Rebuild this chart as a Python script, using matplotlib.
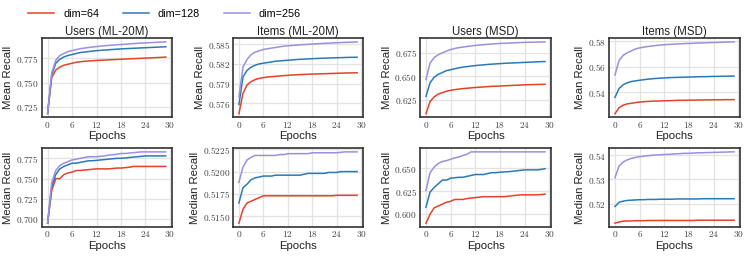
import matplotlib
matplotlib.use("Agg")
import matplotlib.pyplot as plt
from matplotlib.ticker import FixedLocator, FixedFormatter
import numpy as np

plt.rcParams['font.family'] = ['Liberation Sans', 'DejaVu Sans']
plt.rcParams['mathtext.fontset'] = 'cm'

epochs = list(range(30))
dims = ["dim=64", "dim=128", "dim=256"]
colors = ["#e5412b", "#2a7ab8", "#9b8fe0"]

titles = ["Users (ML-20M)", "Items (ML-20M)", "Users (MSD)", "Items (MSD)"]

# mean recall, top row
users_ml_mean_64 = [0.719, 0.755, 0.763, 0.766, 0.768, 0.769, 0.770, 0.771, 0.7715, 0.772, 0.7723, 0.7726, 0.7729, 0.7731, 0.7733,
                    0.7735, 0.7737, 0.7739, 0.7741, 0.7743, 0.7745, 0.7747, 0.7749, 0.7751, 0.7753, 0.7755, 0.7757, 0.7759, 0.7761, 0.7764]
users_ml_mean_128 = [0.718, 0.758, 0.770, 0.774, 0.7765, 0.778, 0.779, 0.780, 0.781, 0.7815, 0.782, 0.7825, 0.783, 0.7833, 0.7836,
                     0.7839, 0.7842, 0.7845, 0.7848, 0.785, 0.7852, 0.7854, 0.7856, 0.7858, 0.786, 0.7862, 0.7864, 0.7866, 0.7868, 0.787]
users_ml_mean_256 = [0.718, 0.760, 0.773, 0.778, 0.780, 0.782, 0.783, 0.784, 0.785, 0.7856, 0.7862, 0.7867, 0.7872, 0.7876, 0.788,
                     0.7884, 0.7887, 0.789, 0.7893, 0.7896, 0.7899, 0.7902, 0.7905, 0.7908, 0.791, 0.7912, 0.7914, 0.7916, 0.7918, 0.792]

items_ml_mean_64 = [0.5744, 0.5775, 0.5788, 0.5793, 0.5796, 0.5798, 0.5799, 0.5800, 0.58005, 0.5801, 0.58015, 0.5802, 0.58025, 0.5803, 0.58033,
                    0.58036, 0.58039, 0.58042, 0.58044, 0.58046, 0.58048, 0.5805, 0.58052, 0.58054, 0.58056, 0.58058, 0.5806, 0.58062, 0.58063, 0.58064]
items_ml_mean_128 = [0.5758, 0.5800, 0.5810, 0.5815, 0.5818, 0.5820, 0.5821, 0.5822, 0.5823, 0.5824, 0.58245, 0.5825, 0.58255, 0.5826, 0.58265,
                     0.5827, 0.58273, 0.58276, 0.58279, 0.58282, 0.58285, 0.58287, 0.58289, 0.58291, 0.58293, 0.58295, 0.58297, 0.58299, 0.583, 0.58301]
items_ml_mean_256 = [0.5770, 0.5815, 0.5827, 0.5834, 0.5838, 0.5840, 0.5842, 0.5843, 0.5844, 0.5845, 0.5846, 0.5847, 0.58475, 0.5848, 0.58485,
                     0.5849, 0.58494, 0.58498, 0.58502, 0.58506, 0.5851, 0.58513, 0.58516, 0.58519, 0.58522, 0.58525, 0.58528, 0.5853, 0.58532, 0.58535]

users_msd_mean_64 = [0.610, 0.623, 0.628, 0.631, 0.6325, 0.634, 0.635, 0.6357, 0.6363, 0.6368, 0.6372, 0.6376, 0.638, 0.6383, 0.6386,
                     0.6389, 0.6392, 0.6394, 0.6396, 0.6398, 0.640, 0.6402, 0.6404, 0.6406, 0.6408, 0.641, 0.6411, 0.6412, 0.6413, 0.6414]
users_msd_mean_128 = [0.6285, 0.643, 0.649, 0.652, 0.654, 0.656, 0.657, 0.658, 0.659, 0.6597, 0.6603, 0.6609, 0.6614, 0.6618, 0.6622,
                      0.6626, 0.6629, 0.6632, 0.6635, 0.6638, 0.664, 0.6642, 0.6644, 0.6646, 0.6648, 0.665, 0.6652, 0.6654, 0.6656, 0.6657]
users_msd_mean_256 = [0.6465, 0.664, 0.670, 0.673, 0.675, 0.677, 0.6785, 0.6797, 0.6805, 0.6812, 0.6818, 0.6824, 0.6829, 0.6833, 0.6837,
                      0.6841, 0.6844, 0.6847, 0.685, 0.6852, 0.6854, 0.6856, 0.6858, 0.686, 0.6862, 0.6863, 0.6864, 0.6865, 0.6866, 0.6867]

items_msd_mean_64 = [0.5233, 0.528, 0.530, 0.531, 0.5315, 0.532, 0.5324, 0.5327, 0.5329, 0.5331, 0.5332, 0.5333, 0.5334, 0.5335, 0.5336,
                     0.5337, 0.5338, 0.5338, 0.5339, 0.5339, 0.534, 0.534, 0.5341, 0.5341, 0.5342, 0.5342, 0.5342, 0.5343, 0.5343, 0.5343]
items_msd_mean_128 = [0.5361, 0.543, 0.546, 0.5475, 0.5485, 0.549, 0.5495, 0.5499, 0.5503, 0.5506, 0.5509, 0.5511, 0.5513, 0.5515, 0.5516,
                      0.5517, 0.5518, 0.5519, 0.552, 0.5521, 0.5522, 0.5523, 0.5523, 0.5524, 0.5525, 0.5525, 0.5526, 0.5526, 0.5527, 0.5527]
items_msd_mean_256 = [0.5536, 0.565, 0.569, 0.571, 0.5725, 0.574, 0.5748, 0.5754, 0.5759, 0.5763, 0.5767, 0.577, 0.5773, 0.5775, 0.5777,
                      0.5779, 0.578, 0.5782, 0.5783, 0.5784, 0.5786, 0.5787, 0.5788, 0.5789, 0.579, 0.5791, 0.5792, 0.5793, 0.5794, 0.5795]

# median recall, bottom row
users_ml_median_64 = [0.695, 0.735, 0.750, 0.750, 0.755, 0.757, 0.758, 0.760, 0.760, 0.7605, 0.761, 0.7615, 0.762, 0.762, 0.762,
                      0.762, 0.7625, 0.763, 0.763, 0.7635, 0.764, 0.765, 0.765, 0.765, 0.765, 0.765, 0.765, 0.765, 0.765, 0.765]
users_ml_median_128 = [0.695, 0.740, 0.755, 0.762, 0.765, 0.767, 0.769, 0.769, 0.770, 0.771, 0.772, 0.772, 0.7725, 0.773, 0.7735,
                       0.774, 0.7745, 0.775, 0.775, 0.7755, 0.776, 0.7765, 0.777, 0.7775, 0.778, 0.778, 0.778, 0.778, 0.778, 0.778]
users_ml_median_256 = [0.695, 0.745, 0.760, 0.766, 0.769, 0.771, 0.773, 0.774, 0.775, 0.776, 0.777, 0.777, 0.777, 0.7775, 0.778,
                       0.779, 0.7795, 0.780, 0.781, 0.781, 0.7815, 0.782, 0.7825, 0.783, 0.783, 0.783, 0.783, 0.783, 0.783, 0.783]

items_ml_median_64 = [0.51425, 0.5158, 0.5165, 0.5167, 0.5169, 0.5171, 0.5173, 0.5173, 0.5173, 0.5173, 0.5173, 0.5173, 0.5173, 0.5173, 0.5173,
                      0.5173, 0.5173, 0.5173, 0.5173, 0.5173, 0.5173, 0.5173, 0.5173, 0.5173, 0.51735, 0.51735, 0.51735, 0.51735, 0.51735, 0.51735]
items_ml_median_128 = [0.5165, 0.5182, 0.5186, 0.5191, 0.5193, 0.5194, 0.5195, 0.5195, 0.5195, 0.5196, 0.5196, 0.5196, 0.5196, 0.5196, 0.5196,
                       0.5196, 0.5197, 0.5198, 0.5198, 0.5198, 0.5198, 0.5198, 0.5199, 0.5199, 0.5199, 0.5200, 0.5200, 0.5200, 0.5200, 0.5200]
items_ml_median_256 = [0.5188, 0.5205, 0.5213, 0.5216, 0.5218, 0.5218, 0.5218, 0.5218, 0.5218, 0.5218, 0.5219, 0.5219, 0.5220, 0.5220, 0.5220,
                       0.5220, 0.5220, 0.5220, 0.5221, 0.5221, 0.5221, 0.5221, 0.5221, 0.5221, 0.5221, 0.52215, 0.5222, 0.5222, 0.5222, 0.5222]

users_msd_median_64 = [0.5904, 0.600, 0.607, 0.609, 0.611, 0.613, 0.614, 0.616, 0.616, 0.616, 0.617, 0.6175, 0.618, 0.6185, 0.619,
                       0.619, 0.619, 0.619, 0.619, 0.619, 0.6195, 0.620, 0.6205, 0.621, 0.621, 0.621, 0.621, 0.621, 0.6213, 0.6218]
users_msd_median_128 = [0.6078, 0.624, 0.629, 0.633, 0.637, 0.637, 0.639, 0.6395, 0.640, 0.640, 0.641, 0.642, 0.643, 0.643, 0.643,
                        0.644, 0.645, 0.645, 0.6455, 0.6458, 0.646, 0.6465, 0.647, 0.6475, 0.648, 0.648, 0.648, 0.648, 0.6485, 0.6493]
users_msd_median_256 = [0.6257, 0.645, 0.651, 0.655, 0.657, 0.658, 0.6595, 0.661, 0.662, 0.6635, 0.665, 0.6675, 0.6675, 0.6675, 0.6675,
                        0.6675, 0.6675, 0.6675, 0.6675, 0.6675, 0.6675, 0.6675, 0.6675, 0.6675, 0.6675, 0.6675, 0.6675, 0.6675, 0.6675, 0.6675]

items_msd_median_64 = [0.5119, 0.5124, 0.5127, 0.5128, 0.5128, 0.5129, 0.5129, 0.5129, 0.513, 0.513, 0.513, 0.513, 0.513, 0.513, 0.513,
                       0.513, 0.513, 0.513, 0.513, 0.513, 0.5131, 0.5131, 0.5131, 0.5131, 0.5131, 0.5131, 0.5131, 0.5131, 0.5131, 0.5131]
items_msd_median_128 = [0.5188, 0.5205, 0.5210, 0.5213, 0.5214, 0.5215, 0.5216, 0.5216, 0.5217, 0.5217, 0.5217, 0.5218, 0.5218, 0.5218, 0.5218,
                        0.5219, 0.5219, 0.5219, 0.5219, 0.5219, 0.5219, 0.522, 0.522, 0.522, 0.522, 0.522, 0.522, 0.522, 0.522, 0.522]
items_msd_median_256 = [0.5307, 0.5355, 0.5372, 0.5381, 0.5387, 0.5391, 0.5394, 0.5396, 0.5398, 0.54, 0.5401, 0.5402, 0.5403, 0.5404, 0.5405,
                        0.5406, 0.5407, 0.5408, 0.5408, 0.5409, 0.541, 0.541, 0.5411, 0.5411, 0.5412, 0.5412, 0.5413, 0.5413, 0.5414, 0.5414]

mean_series = [
    [users_ml_mean_64, users_ml_mean_128, users_ml_mean_256],
    [items_ml_mean_64, items_ml_mean_128, items_ml_mean_256],
    [users_msd_mean_64, users_msd_mean_128, users_msd_mean_256],
    [items_msd_mean_64, items_msd_mean_128, items_msd_mean_256],
]
median_series = [
    [users_ml_median_64, users_ml_median_128, users_ml_median_256],
    [items_ml_median_64, items_ml_median_128, items_ml_median_256],
    [users_msd_median_64, users_msd_median_128, users_msd_median_256],
    [items_msd_median_64, items_msd_median_128, items_msd_median_256],
]

mean_ticks = [["0.725", "0.750", "0.775"],
              ["0.576", "0.579", "0.582", "0.585"],
              ["0.625", "0.650", "0.675"],
              ["0.54", "0.56", "0.58"]]
median_ticks = [["0.700", "0.725", "0.750", "0.775"],
                ["0.5150", "0.5175", "0.5200", "0.5225"],
                ["0.600", "0.625", "0.650"],
                ["0.52", "0.53", "0.54"]]
x_ticks = [0, 6, 12, 18, 24, 30]

W, H = 748, 257
fig = plt.figure(figsize=(W / 100, H / 100), dpi=100)

lefts = [41.7, 233, 420, 609]
widths = [130, 130, 131, 131]
rows = [(38.3, 117.3), (148.3, 226.7)]


def style_axis(ax, ticks):
    ax.set_facecolor("white")
    ax.grid(True, color="#e3e3e3", linewidth=0.9)
    ax.set_axisbelow(True)
    for s in ax.spines.values():
        s.set_color("#333333")
        s.set_linewidth(1.2)
    ax.tick_params(length=0, pad=2, labelsize=6.7, labelcolor="#444444")
    ax.xaxis.set_major_locator(FixedLocator(x_ticks))
    ax.xaxis.set_major_formatter(FixedFormatter(["$%d$" % t for t in x_ticks]))
    ax.yaxis.set_major_locator(FixedLocator([float(t) for t in ticks]))
    ax.yaxis.set_major_formatter(FixedFormatter(["$%s$" % t for t in ticks]))
    ax.set_xlabel("Epochs", fontsize=8.2, labelpad=1, color="#222222")


lines = []
for r, (series, ticks, ylab) in enumerate([(mean_series, mean_ticks, "Mean Recall"),
                                            (median_series, median_ticks, "Median Recall")]):
    top, bot = rows[r]
    for c in range(4):
        ax = fig.add_axes([lefts[c] / W, 1 - bot / H, widths[c] / W, (bot - top) / H])
        for k in range(3):
            ln, = ax.plot(epochs, series[c][k], color=colors[k], linewidth=1.1, label=dims[k])
            if r == 0 and c == 0:
                lines.append(ln)
        style_axis(ax, ticks[c])
        ax.set_ylabel(ylab, fontsize=8.2, labelpad=2, color="#222222")
        if r == 0:
            ax.set_title(titles[c], fontsize=8.3, pad=2.5, color="#222222")

fig.legend(lines, dims, loc="center left", bbox_to_anchor=(0.025, 1 - 14 / H), ncol=3,
           frameon=False, fontsize=7.8, handlelength=2.4, columnspacing=2.2, handletextpad=0.8)

fig.savefig("out.png", dpi=100)
